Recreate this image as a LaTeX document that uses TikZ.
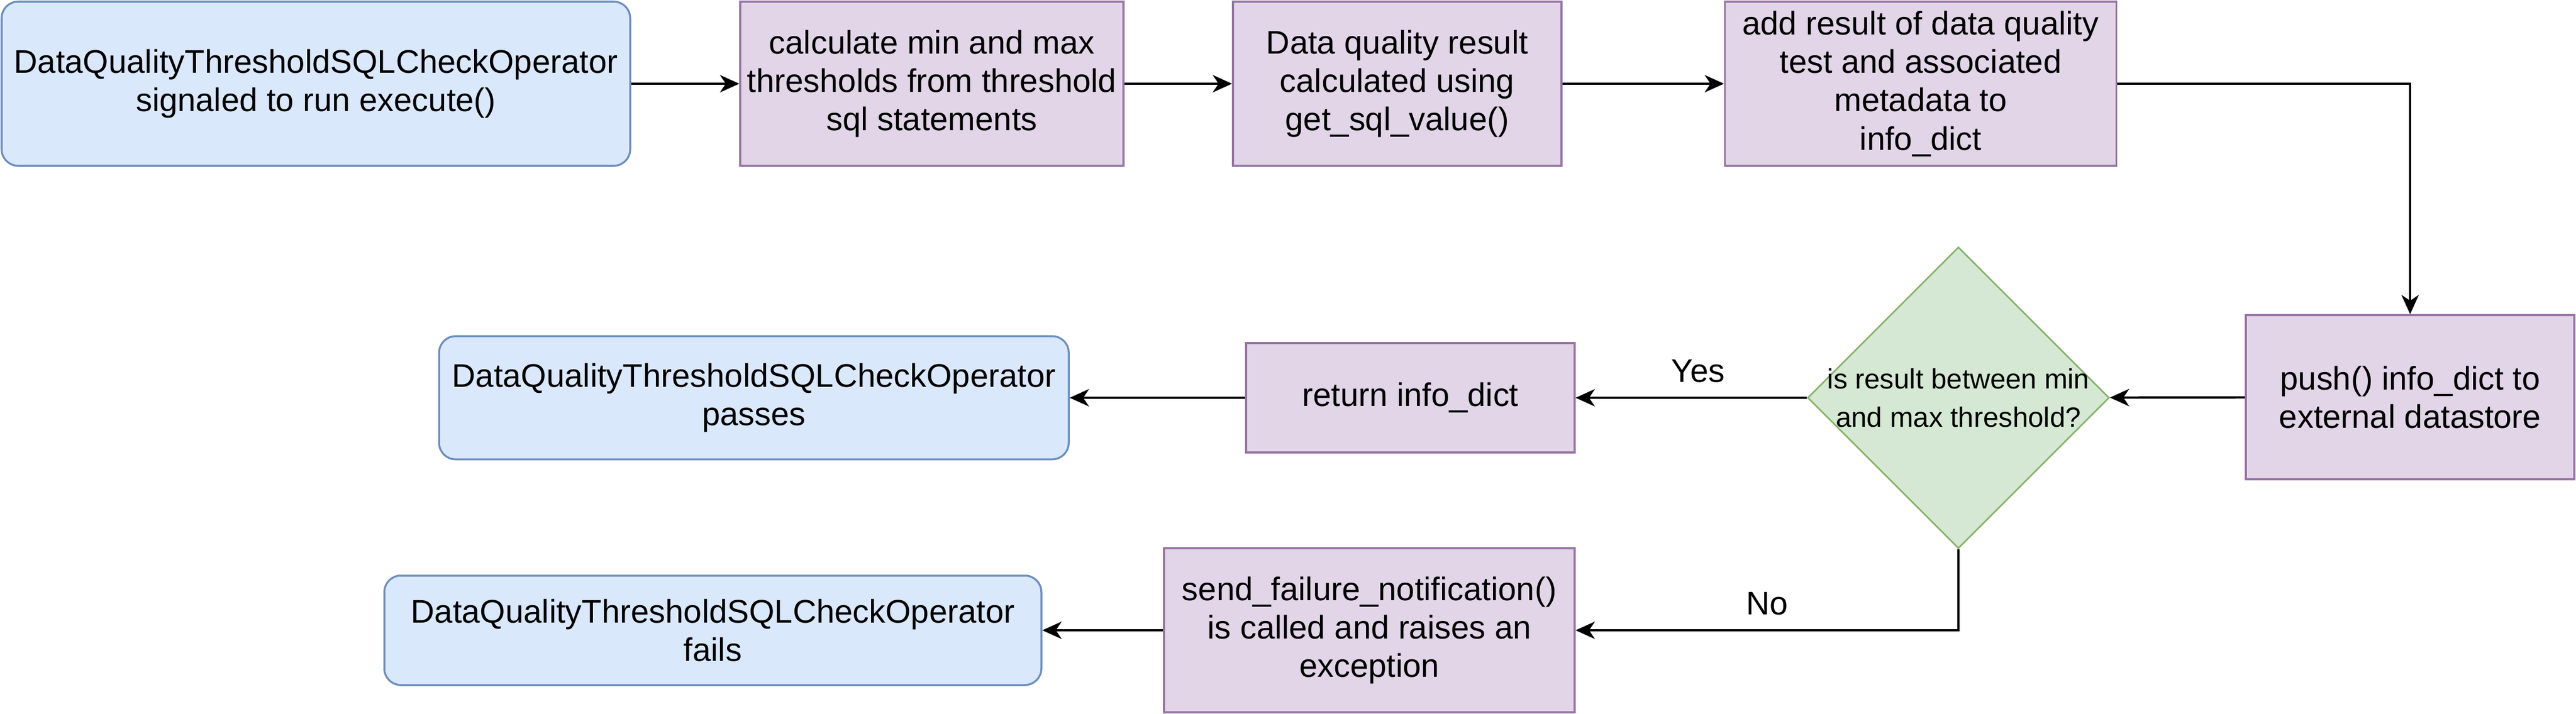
\documentclass[tikz,border=0pt]{standalone}
\usepackage{fontspec}
\setmainfont{Liberation Sans}
\usetikzlibrary{arrows.meta,shapes.geometric}

\definecolor{opfill}{HTML}{DAE8FC}
\definecolor{opline}{HTML}{6C8EBF}
\definecolor{stepfill}{HTML}{E1D5E7}
\definecolor{stepline}{HTML}{9673A6}
\definecolor{testfill}{HTML}{D5E8D4}
\definecolor{testline}{HTML}{82B366}

\begin{document}
\begin{tikzpicture}[
  font=\fontsize{17}{20}\selectfont,
  opbox/.style={draw=opline, fill=opfill, line width=1pt, rounded corners=0.3cm, align=center, inner sep=0pt},
  stepbox/.style={draw=stepline, fill=stepfill, line width=1pt, align=center, inner sep=0pt},
  testbox/.style={diamond, draw=testline, fill=testfill, line width=0.8pt, inner sep=0pt, aspect=1, minimum size=5.51cm},
  testtext/.style={align=center, font=\fontsize{14.5}{20}\selectfont},
  flow/.style={-{Stealth[length=10pt,width=9pt,inset=3pt]}, line width=1.2pt}
]
\useasboundingbox (0,0) rectangle (47.05,-13.05);
% top row
\node[opbox, minimum width=11.48cm, minimum height=3cm] (start) at (5.77,-1.53) {DataQualityThresholdSQLCheckOperator\\signaled to run execute()};
\node[stepbox, minimum width=7cm, minimum height=3cm] (limits) at (17.02,-1.53) {calculate min and max\\thresholds from threshold\\sql statements};
\node[stepbox, minimum width=6cm, minimum height=3cm] (result) at (25.52,-1.53) {Data quality result\\calculated using\\get\_sql\_value()};
\node[stepbox, minimum width=7.15cm, minimum height=3cm] (addinfo) at (35.08,-1.53) {add result of data quality\\test and associated\\metadata to\\info\_dict};
% right side
\node[stepbox, minimum width=6cm, minimum height=3cm] (push) at (44.02,-7.26) {push() info\_dict to\\external datastore};
\node[testbox, label={[testtext]center:is result between min\\and max threshold?}] (check) at (35.77,-7.27) {};
% outcomes
\node[stepbox, minimum width=6cm, minimum height=2cm] (ret) at (25.76,-7.27) {return info\_dict};
\node[opbox, minimum width=11.5cm, minimum height=2.25cm] (passes) at (13.77,-7.27) {DataQualityThresholdSQLCheckOperator\\passes};
\node[stepbox, minimum width=7.5cm, minimum height=3cm] (notify) at (25.01,-11.52) {send\_failure\_notification()\\is called and raises an\\exception};
\node[opbox, minimum width=12cm, minimum height=2cm] (fails) at (13.02,-11.52) {DataQualityThresholdSQLCheckOperator\\fails};
% connectors
\draw[flow] (start) -- (limits);
\draw[flow] (limits) -- (result);
\draw[flow] (result) -- (addinfo);
\draw[flow] (addinfo.east) -| (push.north);
\draw[flow] (push) -- (check);
\draw[flow] (check.west) -- node[pos=0.47, above=4pt] {Yes} (ret.east);
\draw[flow] (ret) -- (passes);
\draw[flow] (check.south) |- node[pos=0.75, above=4pt] {No} (notify.east);
\draw[flow] (notify) -- (fails);
\end{tikzpicture}
\end{document}
